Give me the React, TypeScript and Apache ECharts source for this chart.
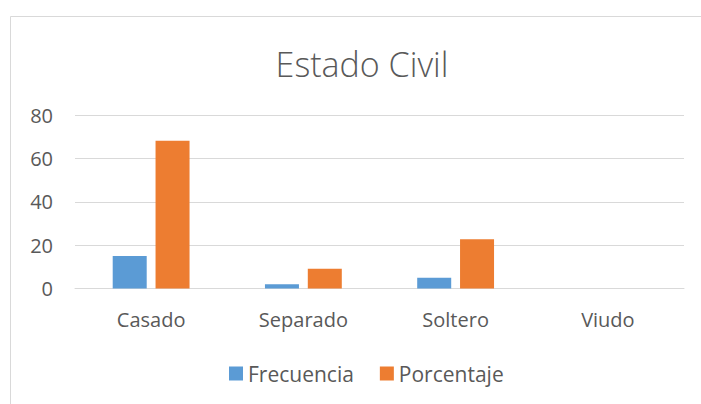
import React, { useEffect, useRef } from "react";
import * as echarts from "echarts";

const categories = ["Casado", "Separado", "Soltero", "Viudo"];
const frecuencia = [15, 2, 5, 0];
const porcentaje = [68.18, 9.09, 22.73, 0];
const seriesNames = ["Frecuencia", "Porcentaje"];
const titleText = "Estado Civil";

const FONT = "Open Sans";
const TEXT = "#595959";

export default function App() {
  const ref = useRef<HTMLDivElement>(null);
  useEffect(() => {
    const chart = echarts.init(ref.current!, undefined, { renderer: "svg" });
    chart.setOption({
      animation: false,
      backgroundColor: "#ffffff",
      title: {
        text: titleText,
        left: 357,
        top: 42,
        textAlign: "center",
        textStyle: { fontFamily: FONT, fontSize: 34, fontWeight: 300, color: TEXT },
      },
      graphic: [
        {
          type: "rect",
          shape: { x: 10.5, y: 16.5, width: 800, height: 600 },
          style: { fill: "none", stroke: "#D9D9D9", lineWidth: 1 },
          silent: true,
          z: -1,
        },
      ],
      legend: {
        data: seriesNames,
        left: 224,
        top: 358,
        itemWidth: 14,
        itemHeight: 14,
        itemGap: 26,
        icon: "rect",
        textStyle: { fontFamily: FONT, fontSize: 21, color: TEXT },
      },
      grid: { left: 75, right: 17, top: 115, bottom: 115.5, containLabel: false },
      xAxis: {
        type: "category",
        data: categories,
        axisLine: { lineStyle: { color: "#D9D9D9", width: 1 } },
        axisTick: { show: false },
        axisLabel: { fontFamily: FONT, fontSize: 20, color: TEXT, margin: 21 },
      },
      yAxis: {
        type: "value",
        min: 0,
        max: 80,
        interval: 20,
        axisLine: { show: false },
        axisTick: { show: false },
        splitLine: { lineStyle: { color: "#D9D9D9", width: 1 } },
        axisLabel: { fontFamily: FONT, fontSize: 20, color: TEXT, margin: 22 },
      },
      series: [
        {
          name: seriesNames[0],
          type: "bar",
          data: frecuencia,
          barWidth: 34,
          barGap: "26%",
          itemStyle: { color: "#5B9BD5" },
        },
        {
          name: seriesNames[1],
          type: "bar",
          data: porcentaje,
          barWidth: 34,
          barGap: "26%",
          itemStyle: { color: "#ED7D31" },
        },
      ],
    });
    return () => chart.dispose();
  }, []);
  return (
    <div
      ref={ref}
      style={{ position: "absolute", left: 0, top: 0, width: 701, height: 404 }}
    />
  );
}
